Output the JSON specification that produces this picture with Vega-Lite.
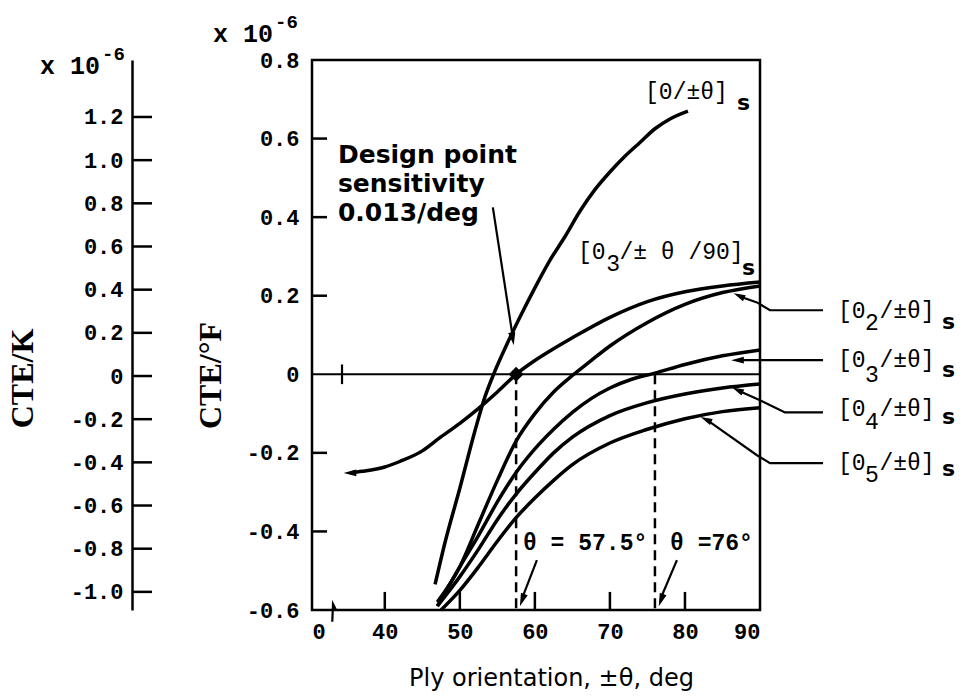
{
  "$schema": "https://vega.github.io/schema/vega-lite/v6.json",
  "width": 448,
  "height": 550,
  "autosize": {"type": "none"},
  "padding": {"left": 312, "top": 60, "right": 203, "bottom": 89},
  "background": "white",
  "config": {
    "view": {"stroke": "black", "strokeWidth": 2.5},
    "axis": {"labelColor": "black", "tickColor": "black", "domainColor": "black", "titleColor": "black", "grid": false}
  },
  "datasets": {
    "curves": [
      {"s": "A", "x": 46.7, "y": -0.535}, {"s": "A", "x": 48, "y": -0.43}, {"s": "A", "x": 50, "y": -0.29}, {"s": "A", "x": 52, "y": -0.145}, {"s": "A", "x": 53.3, "y": -0.06}, {"s": "A", "x": 54.5, "y": 0.0}, {"s": "A", "x": 56, "y": 0.065}, {"s": "A", "x": 58, "y": 0.145}, {"s": "A", "x": 60, "y": 0.22}, {"s": "A", "x": 62, "y": 0.29}, {"s": "A", "x": 64, "y": 0.35}, {"s": "A", "x": 66, "y": 0.415}, {"s": "A", "x": 68, "y": 0.47}, {"s": "A", "x": 70, "y": 0.515}, {"s": "A", "x": 72, "y": 0.555}, {"s": "A", "x": 74, "y": 0.59}, {"s": "A", "x": 76, "y": 0.625}, {"s": "A", "x": 78, "y": 0.65}, {"s": "A", "x": 80.4, "y": 0.67},
      {"s": "B", "x": 35.36, "y": -0.251}, {"s": "B", "x": 37, "y": -0.247}, {"s": "B", "x": 40, "y": -0.236}, {"s": "B", "x": 42, "y": -0.222}, {"s": "B", "x": 45, "y": -0.195}, {"s": "B", "x": 47.3, "y": -0.162}, {"s": "B", "x": 50, "y": -0.125}, {"s": "B", "x": 52.3, "y": -0.09}, {"s": "B", "x": 55, "y": -0.045}, {"s": "B", "x": 57.5, "y": 0.0}, {"s": "B", "x": 60, "y": 0.035}, {"s": "B", "x": 62.5, "y": 0.065}, {"s": "B", "x": 65, "y": 0.093}, {"s": "B", "x": 70, "y": 0.145}, {"s": "B", "x": 75, "y": 0.185}, {"s": "B", "x": 80, "y": 0.21}, {"s": "B", "x": 85, "y": 0.225}, {"s": "B", "x": 90, "y": 0.235},
      {"s": "C", "x": 47, "y": -0.58}, {"s": "C", "x": 50, "y": -0.49}, {"s": "C", "x": 52.5, "y": -0.38}, {"s": "C", "x": 55, "y": -0.27}, {"s": "C", "x": 57.5, "y": -0.17}, {"s": "C", "x": 60, "y": -0.1}, {"s": "C", "x": 62.5, "y": -0.045}, {"s": "C", "x": 65, "y": -0.003}, {"s": "C", "x": 67.5, "y": 0.035}, {"s": "C", "x": 70, "y": 0.072}, {"s": "C", "x": 75, "y": 0.132}, {"s": "C", "x": 80, "y": 0.178}, {"s": "C", "x": 85, "y": 0.208}, {"s": "C", "x": 90, "y": 0.225},
      {"s": "D", "x": 47, "y": -0.59}, {"s": "D", "x": 50, "y": -0.49}, {"s": "D", "x": 52.5, "y": -0.41}, {"s": "D", "x": 55, "y": -0.325}, {"s": "D", "x": 57.5, "y": -0.25}, {"s": "D", "x": 60, "y": -0.19}, {"s": "D", "x": 62.5, "y": -0.14}, {"s": "D", "x": 65, "y": -0.097}, {"s": "D", "x": 67.5, "y": -0.062}, {"s": "D", "x": 70, "y": -0.035}, {"s": "D", "x": 73, "y": -0.012}, {"s": "D", "x": 76, "y": 0.003}, {"s": "D", "x": 80, "y": 0.025}, {"s": "D", "x": 85, "y": 0.047}, {"s": "D", "x": 90, "y": 0.062},
      {"s": "E", "x": 47, "y": -0.59}, {"s": "E", "x": 50, "y": -0.515}, {"s": "E", "x": 52.5, "y": -0.445}, {"s": "E", "x": 55, "y": -0.37}, {"s": "E", "x": 57.5, "y": -0.305}, {"s": "E", "x": 60, "y": -0.25}, {"s": "E", "x": 62.5, "y": -0.2}, {"s": "E", "x": 65, "y": -0.16}, {"s": "E", "x": 70, "y": -0.105}, {"s": "E", "x": 75, "y": -0.072}, {"s": "E", "x": 80, "y": -0.05}, {"s": "E", "x": 85, "y": -0.035}, {"s": "E", "x": 90, "y": -0.025},
      {"s": "F", "x": 47.5, "y": -0.6}, {"s": "F", "x": 50, "y": -0.55}, {"s": "F", "x": 52.5, "y": -0.49}, {"s": "F", "x": 55, "y": -0.425}, {"s": "F", "x": 57.5, "y": -0.365}, {"s": "F", "x": 60, "y": -0.315}, {"s": "F", "x": 62.5, "y": -0.27}, {"s": "F", "x": 65, "y": -0.23}, {"s": "F", "x": 70, "y": -0.175}, {"s": "F", "x": 75, "y": -0.14}, {"s": "F", "x": 80, "y": -0.113}, {"s": "F", "x": 85, "y": -0.095}, {"s": "F", "x": 90, "y": -0.085}
    ],
    "zero": [{"x": 30.3, "y": 0}, {"x": 90, "y": 0}],
    "tickseg": [
      {"id": "x40", "x": 40, "y": -0.6}, {"id": "x40", "x": 40, "y": -0.554},
      {"id": "x50", "x": 50, "y": -0.6}, {"id": "x50", "x": 50, "y": -0.554},
      {"id": "x60", "x": 60, "y": -0.6}, {"id": "x60", "x": 60, "y": -0.554},
      {"id": "x70", "x": 70, "y": -0.6}, {"id": "x70", "x": 70, "y": -0.554},
      {"id": "x80", "x": 80, "y": -0.6}, {"id": "x80", "x": 80, "y": -0.554},
      {"id": "ym4", "x": 30.3, "y": -0.4}, {"id": "ym4", "x": 32.3, "y": -0.4},
      {"id": "ym2", "x": 30.3, "y": -0.2}, {"id": "ym2", "x": 32.3, "y": -0.2},
      {"id": "yp2", "x": 30.3, "y": 0.2}, {"id": "yp2", "x": 32.3, "y": 0.2},
      {"id": "yp4", "x": 30.3, "y": 0.4}, {"id": "yp4", "x": 32.3, "y": 0.4},
      {"id": "yp6", "x": 30.3, "y": 0.6}, {"id": "yp6", "x": 32.3, "y": 0.6}
    ],
    "kseg": [
      {"id": "k1", "x": 6.31, "k": -1.0}, {"id": "k1", "x": 8.98, "k": -1.0},
      {"id": "k2", "x": 6.31, "k": -0.8}, {"id": "k2", "x": 8.98, "k": -0.8},
      {"id": "k3", "x": 6.31, "k": -0.6}, {"id": "k3", "x": 8.98, "k": -0.6},
      {"id": "k4", "x": 6.31, "k": -0.4}, {"id": "k4", "x": 8.98, "k": -0.4},
      {"id": "k5", "x": 6.31, "k": -0.2}, {"id": "k5", "x": 8.98, "k": -0.2},
      {"id": "k6", "x": 6.31, "k": 0}, {"id": "k6", "x": 8.98, "k": 0},
      {"id": "k7", "x": 6.31, "k": 0.2}, {"id": "k7", "x": 8.98, "k": 0.2},
      {"id": "k8", "x": 6.31, "k": 0.4}, {"id": "k8", "x": 8.98, "k": 0.4},
      {"id": "k9", "x": 6.31, "k": 0.6}, {"id": "k9", "x": 8.98, "k": 0.6},
      {"id": "k10", "x": 6.31, "k": 0.8}, {"id": "k10", "x": 8.98, "k": 0.8},
      {"id": "k11", "x": 6.31, "k": 1.0}, {"id": "k11", "x": 8.98, "k": 1.0},
      {"id": "k12", "x": 6.31, "k": 1.2}, {"id": "k12", "x": 8.98, "k": 1.2}
    ],
    "dashes": [
      {"id": "d1", "x": 57.5, "y": 0}, {"id": "d1", "x": 57.5, "y": -0.6},
      {"id": "d2", "x": 76, "y": 0}, {"id": "d2", "x": 76, "y": -0.6}
    ],
    "leaders": [
      {"id": "dp", "o": 1, "x": 54.4, "y": 0.425}, {"id": "dp", "o": 2, "x": 56.93, "y": 0.11},
      {"id": "a57", "o": 1, "x": 60.27, "y": -0.473}, {"id": "a57", "o": 2, "x": 58.5, "y": -0.56},
      {"id": "a76", "o": 1, "x": 78.93, "y": -0.473}, {"id": "a76", "o": 2, "x": 77.0, "y": -0.56},
      {"id": "l2", "o": 1, "x": 98.4, "y": 0.163}, {"id": "l2", "o": 2, "x": 91.33, "y": 0.163}, {"id": "l2", "o": 3, "x": 89.6, "y": 0.183}, {"id": "l2", "o": 4, "x": 87.6, "y": 0.196},
      {"id": "l3", "o": 1, "x": 98.4, "y": 0.036}, {"id": "l3", "o": 2, "x": 87.5, "y": 0.036},
      {"id": "l4", "o": 1, "x": 98.4, "y": -0.097}, {"id": "l4", "o": 2, "x": 93.33, "y": -0.097}, {"id": "l4", "o": 3, "x": 90, "y": -0.066}, {"id": "l4", "o": 4, "x": 87.3, "y": -0.043},
      {"id": "l5", "o": 1, "x": 98.4, "y": -0.226}, {"id": "l5", "o": 2, "x": 91.33, "y": -0.226}, {"id": "l5", "o": 3, "x": 89.6, "y": -0.206}, {"id": "l5", "o": 4, "x": 83.2, "y": -0.12},
      {"id": "zb", "o": 1, "x": 34.3, "y": -0.025}, {"id": "zb", "o": 2, "x": 34.3, "y": 0.025},
      {"id": "xb", "o": 1, "x": 33.5, "y": -0.6}, {"id": "xb", "o": 2, "x": 33.1, "y": -0.585}, {"id": "xb", "o": 3, "x": 33.0, "y": -0.63}
    ],
    "heads": [
      {"dir": "s", "x": 57.05, "y": 0.09},
      {"dir": "ssw", "x": 58.3, "y": -0.575},
      {"dir": "ssw", "x": 76.8, "y": -0.575},
      {"dir": "nw", "x": 87.2, "y": 0.2},
      {"dir": "w", "x": 87.0, "y": 0.036},
      {"dir": "nw", "x": 87.0, "y": -0.04},
      {"dir": "nw", "x": 82.8, "y": -0.115},
      {"dir": "w", "x": 35.36, "y": -0.251}
    ],
    "dpoint": [{"x": 57.5, "y": 0}],
    "mainlab": [
      {"x": 74.68, "y": 0.7185, "t": "[0/±θ]"},
      {"x": 65.75, "y": 0.311, "t": "[0 /± θ /90]"},
      {"x": 100.4, "y": 0.161, "t": "[0 /±θ]"},
      {"x": 100.4, "y": 0.0364, "t": "[0 /±θ]"},
      {"x": 100.4, "y": -0.0884, "t": "[0 /±θ]"},
      {"x": 100.4, "y": -0.2258, "t": "[0 /±θ]"}
    ],
    "sublab": [
      {"x": 69.5, "y": 0.281, "t": "3"},
      {"x": 104.0, "y": 0.131, "t": "2"},
      {"x": 104.0, "y": -0.0013, "t": "3"},
      {"x": 104.0, "y": -0.1209, "t": "4"},
      {"x": 104.0, "y": -0.2558, "t": "5"}
    ],
    "slab": [
      {"x": 86.94, "y": 0.6905}, {"x": 87.6, "y": 0.2705},
      {"x": 114.25, "y": 0.1331}, {"x": 114.25, "y": 0.0109}, {"x": 114.25, "y": -0.1087}, {"x": 114.25, "y": -0.2411}
    ],
    "notes": [
      {"x": 58.42, "y": -0.4294, "t": "θ = 57.5°"},
      {"x": 78.01, "y": -0.4294, "t": "θ =76°"}
    ],
    "design": [{"x": 33.76, "y": 0.5887, "t": "Design point\nsensitivity\n0.013/deg"}],
    "exp": [{"x": 2.05, "y": 0.785}, {"x": 25.1, "y": 0.866}]
  },
  "resolve": {"scale": {"y": "independent"}},
  "layer": [
    {
      "encoding": {
        "x": {"field": "x", "type": "quantitative", "scale": {"domain": [30.3, 90], "nice": false, "zero": false},
          "axis": {"orient": "bottom", "values": [30.3, 40, 50, 60, 70, 80, 90], "labelExpr": "datum.value < 35 ? '0' : format(datum.value, 'd')",
            "domain": false, "ticks": false, "labelFont": "Liberation Mono", "labelFontWeight": "bold", "labelFontSize": 22, "labelPadding": 11, "labelBaseline": "top",
            "title": "Ply orientation, ±θ, deg", "titleFont": "DejaVu Sans", "titleFontWeight": "normal", "titleFontSize": 24, "titleX": 239, "titleY": 68, "titleBaseline": "middle", "titleAlign": "center", "titleAngle": 0}},
        "y": {"field": "y", "type": "quantitative", "scale": {"domain": [-0.6, 0.8], "nice": false, "zero": false},
          "axis": {"orient": "left", "values": [-0.6, -0.4, -0.2, 0, 0.2, 0.4, 0.6, 0.8], "labelExpr": "datum.value == 0 ? '0' : (datum.value < 0 ? '-' : '') + format(abs(datum.value), '.1f')",
            "domain": false, "ticks": false, "labelFont": "Liberation Mono", "labelFontWeight": "bold", "labelFontSize": 22, "labelPadding": 13, "labelAlign": "right", "labelBaseline": "middle",
            "title": "CTE/°F", "titleFont": "Liberation Serif", "titleFontWeight": "bold", "titleFontSize": 32, "titleX": -102, "titleY": 315, "titleAngle": -90, "titleBaseline": "middle", "titleAlign": "center"}}
      },
      "layer": [
        {"data": {"name": "zero"}, "mark": {"type": "line", "stroke": "black", "strokeWidth": 2}},
        {"data": {"name": "tickseg"}, "mark": {"type": "line", "stroke": "black", "strokeWidth": 2.5}, "encoding": {"detail": {"field": "id"}}},
        {"data": {"name": "dashes"}, "mark": {"type": "line", "stroke": "black", "strokeWidth": 2.5, "strokeDash": [10, 6]}, "encoding": {"detail": {"field": "id"}}},
        {"data": {"name": "curves"}, "mark": {"type": "line", "stroke": "black", "strokeWidth": 3.5, "interpolate": "monotone"}, "encoding": {"detail": {"field": "s"}}},
        {"data": {"name": "leaders"}, "mark": {"type": "line", "stroke": "black", "strokeWidth": 2.2}, "encoding": {"detail": {"field": "id"}, "order": {"field": "o", "type": "quantitative"}}},
        {"data": {"name": "heads"}, "transform": [{"filter": "datum.dir == 's'"}], "mark": {"type": "point", "shape": "M0,-1L0.55,1L-0.55,1Z", "filled": true, "color": "black", "opacity": 1, "size": 170, "angle": 171}},
        {"data": {"name": "heads"}, "transform": [{"filter": "datum.dir == 'ssw'"}], "mark": {"type": "point", "shape": "M0,-1L0.55,1L-0.55,1Z", "filled": true, "color": "black", "opacity": 1, "size": 170, "angle": 200}},
        {"data": {"name": "heads"}, "transform": [{"filter": "datum.dir == 'nw'"}], "mark": {"type": "point", "shape": "M0,-1L0.55,1L-0.55,1Z", "filled": true, "color": "black", "opacity": 1, "size": 140, "angle": 295}},
        {"data": {"name": "heads"}, "transform": [{"filter": "datum.dir == 'w'"}], "mark": {"type": "point", "shape": "M0,-1L0.55,1L-0.55,1Z", "filled": true, "color": "black", "opacity": 1, "size": 160, "angle": 270}},
        {"data": {"name": "dpoint"}, "mark": {"type": "point", "shape": "diamond", "filled": true, "color": "black", "opacity": 1, "size": 220}},
        {"data": {"name": "mainlab"}, "mark": {"type": "text", "align": "left", "baseline": "middle", "font": "Liberation Mono", "fontSize": 23, "color": "black"}, "encoding": {"text": {"field": "t"}}},
        {"data": {"name": "sublab"}, "mark": {"type": "text", "align": "left", "baseline": "middle", "font": "Liberation Mono", "fontSize": 23, "color": "black"}, "encoding": {"text": {"field": "t"}}},
        {"data": {"name": "slab"}, "mark": {"type": "text", "text": "s", "align": "left", "baseline": "middle", "font": "DejaVu Sans", "fontWeight": "bold", "fontSize": 22, "color": "black"}},
        {"data": {"name": "notes"}, "mark": {"type": "text", "align": "left", "baseline": "middle", "font": "Liberation Mono", "fontWeight": "bold", "fontSize": 23, "color": "black"}, "encoding": {"text": {"field": "t"}}},
        {"data": {"name": "design"}, "mark": {"type": "text", "align": "left", "baseline": "top", "lineBreak": "\n", "lineHeight": 29, "font": "DejaVu Sans", "fontWeight": "bold", "fontSize": 25, "color": "black"}, "encoding": {"text": {"field": "t"}}},
        {"data": {"name": "exp"}, "mark": {"type": "text", "text": "x 10", "align": "right", "baseline": "middle", "font": "Liberation Mono", "fontWeight": "bold", "fontSize": 25, "color": "black"}},
        {"data": {"name": "exp"}, "mark": {"type": "text", "text": "-6", "align": "left", "baseline": "middle", "dx": 2, "dy": -12, "font": "Liberation Mono", "fontWeight": "bold", "fontSize": 19, "color": "black"}}
      ]
    },
    {
      "data": {"name": "kseg"},
      "mark": {"type": "line", "stroke": "black", "strokeWidth": 2.5},
      "encoding": {
        "x": {"field": "x", "type": "quantitative"},
        "y": {"field": "k", "type": "quantitative", "scale": {"domain": [-1.084, 1.464], "nice": false, "zero": false},
          "axis": {"orient": "left", "offset": 180, "values": [-1.0, -0.8, -0.6, -0.4, -0.2, 0, 0.2, 0.4, 0.6, 0.8, 1.0, 1.2],
            "labelExpr": "datum.value == 0 ? '0' : (datum.value < 0 ? '-' : '') + format(abs(datum.value), '.1f')",
            "domain": true, "domainWidth": 2.5, "ticks": false, "labelFont": "Liberation Mono", "labelFontWeight": "bold", "labelFontSize": 22, "labelPadding": 9, "labelAlign": "right", "labelBaseline": "middle",
            "title": "CTE/K", "titleFont": "Liberation Serif", "titleFontWeight": "bold", "titleFontSize": 32, "titleX": -110, "titleY": 318, "titleAngle": -90, "titleBaseline": "middle", "titleAlign": "center"}},
        "detail": {"field": "id"}
      }
    }
  ]
}
